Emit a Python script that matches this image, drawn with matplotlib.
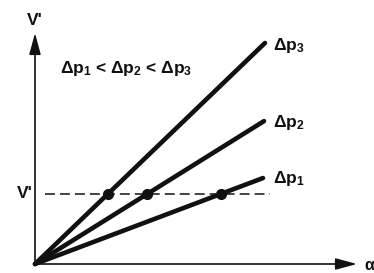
import matplotlib
matplotlib.use("Agg")
import matplotlib.pyplot as plt
import numpy as np

# ---- data ----
series = ["Δp1", "Δp2", "Δp3"]
slopes = [0.377, 0.624, 0.961]
x_end = [2.28, 2.29, 2.30]
v_level = 0.70
dash_range = [0.10, 2.35]
label_y = [0.86, 1.42, 2.18]

plt.rcParams['font.family'] = ['Liberation Sans', 'DejaVu Sans']
plt.rcParams['mathtext.fontset'] = 'custom'
plt.rcParams['mathtext.rm'] = 'Liberation Sans:bold'
plt.rcParams['mathtext.it'] = 'Liberation Sans:bold'
plt.rcParams['mathtext.bf'] = 'Liberation Sans:bold'

fig = plt.figure(figsize=(3.74, 2.73), dpi=100)
ax = fig.add_axes([0, 0, 1, 1])
ax.set_xlim(-0.35, 3.39)
ax.set_ylim(-0.09, 2.64)
ax.axis('off')

def sub(s):
    return s[:-1] + "$_{" + s[-1] + "}$"

# axes arrows
ax.annotate("", xy=(3.22, 0), xytext=(0, 0),
            arrowprops=dict(arrowstyle="-|>,head_length=1.3,head_width=0.35",
                            lw=1.2, color="#111111", shrinkA=0, shrinkB=0))
ax.annotate("", xy=(0, 2.31), xytext=(0, 0),
            arrowprops=dict(arrowstyle="-|>,head_length=1.3,head_width=0.35",
                            lw=1.2, color="#111111", shrinkA=0, shrinkB=0))

# dashed level
ax.plot(dash_range, [v_level, v_level], color="#111111", lw=1.1,
        dashes=(6.5, 3.3))

for name, k, xe, ly in zip(series, slopes, x_end, label_y):
    xs = np.array([0, xe])
    ax.plot(xs, k * xs, color="#111111", lw=3.3, solid_capstyle='round')
    ax.plot([v_level / k], [v_level], 'o', color="#111111", ms=7)
    ax.text(2.38, ly, sub(name), fontsize=12.5, fontweight='bold',
            ha='left', va='center', color="#111111")

ax.text(0.25, 1.95, "Δp$_{1}$ < Δp$_{2}$ < Δp$_{3}$", fontsize=12.5,
        fontweight='bold', ha='left', va='center', color="#111111")
ax.text(0, 2.43, "V'", fontsize=12.5, fontweight='bold', ha='center',
        va='center', color="#111111")
ax.text(-0.02, v_level, "V'", fontsize=12.5, fontweight='bold', ha='right',
        va='center', color="#111111")
ax.text(3.29, -0.01, "α", fontsize=11.5, fontweight='bold', ha='left',
        va='center', color="#111111")

fig.savefig("out.png", dpi=100)
